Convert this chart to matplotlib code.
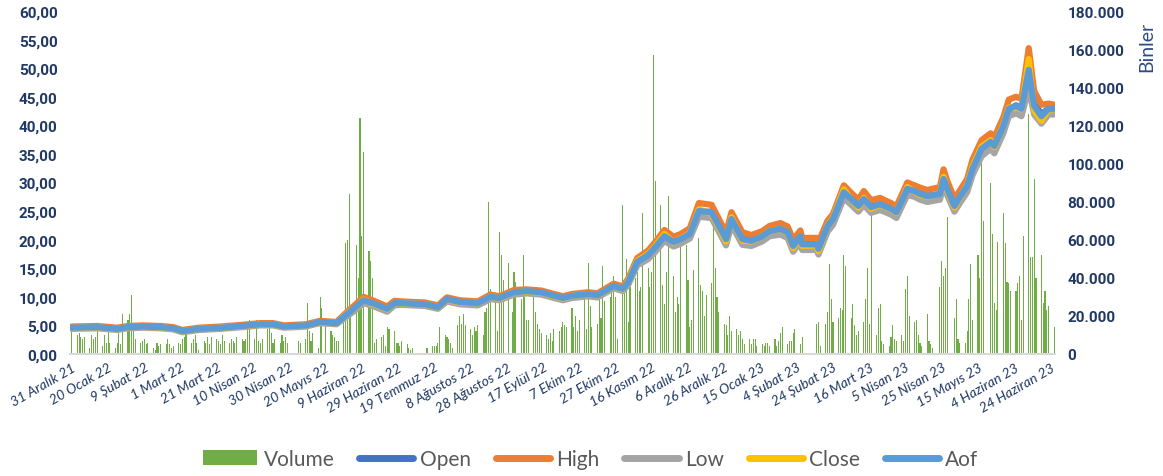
import pandas as pd
import matplotlib
matplotlib.use('Agg')
import matplotlib.pyplot as plt
from matplotlib.patches import Patch
from matplotlib.lines import Line2D

plt.rcParams['font.family'] = ['Lato', 'DejaVu Sans']

# price series (at key dates)
price_dates = [
    '2021-12-31', '2022-01-14', '2022-01-25', '2022-01-31', '2022-02-08', '2022-02-18',
    '2022-02-25', '2022-03-02', '2022-03-11', '2022-03-23', '2022-04-04', '2022-04-14',
    '2022-04-21', '2022-04-27', '2022-05-09', '2022-05-17', '2022-05-26', '2022-06-01',
    '2022-06-06', '2022-06-10', '2022-06-15', '2022-06-23', '2022-06-27', '2022-07-01',
    '2022-07-14', '2022-07-21', '2022-07-26', '2022-08-02', '2022-08-12', '2022-08-19',
    '2022-08-24', '2022-09-01', '2022-09-08', '2022-09-16', '2022-09-23', '2022-09-28',
    '2022-10-03', '2022-10-12', '2022-10-17', '2022-10-26', '2022-10-31', '2022-11-03',
    '2022-11-08', '2022-11-14', '2022-11-18', '2022-11-23', '2022-11-28', '2022-12-02',
    '2022-12-07', '2022-12-12', '2022-12-19', '2022-12-27', '2022-12-30', '2023-01-05',
    '2023-01-10', '2023-01-16', '2023-01-20', '2023-01-26', '2023-01-30', '2023-02-02',
    '2023-02-06', '2023-02-07', '2023-02-15', '2023-02-16', '2023-02-21', '2023-02-24',
    '2023-03-02', '2023-03-06', '2023-03-10', '2023-03-13', '2023-03-17', '2023-03-22',
    '2023-03-28', '2023-03-31', '2023-04-06', '2023-04-10', '2023-04-13', '2023-04-17',
    '2023-04-24', '2023-04-26', '2023-04-28', '2023-05-02', '2023-05-05', '2023-05-09',
    '2023-05-12', '2023-05-17', '2023-05-22', '2023-05-24', '2023-05-29', '2023-06-01',
    '2023-06-05', '2023-06-08', '2023-06-12', '2023-06-15', '2023-06-19', '2023-06-23',
    '2023-06-26',
]
aof = [
    4.6, 4.7, 4.4, 4.7, 4.8, 4.7, 4.5, 4.0, 4.4, 4.6, 4.9, 5.2, 5.2, 4.8, 5.0, 5.6, 5.4, 7.0,
    8.3, 9.4, 8.9, 7.9, 8.9, 8.9, 8.7, 8.2, 9.6, 9.1, 8.9, 10.0, 9.8, 10.8, 11.0, 10.8, 10.2, 9.8,
    10.2, 10.5, 10.3, 11.9, 11.4, 12.6, 16.1, 17.3, 18.7, 20.6, 19.6, 20.1, 21.0, 25.0, 24.8, 20.1,
    23.6, 20.1, 19.8, 20.6, 21.5, 21.9, 21.3, 18.9, 20.6, 19.2, 19.2, 18.4, 22.4, 23.6, 28.3, 27.1,
    25.9, 27.1, 25.7, 26.2, 25.4, 24.8, 28.9, 28.5, 28.0, 27.6, 28.0, 30.6, 28.9, 25.9, 27.5, 29.4,
    32.4, 35.9, 37.1, 36.4, 39.9, 42.9, 43.4, 42.9, 49.7, 43.4, 41.6, 42.9, 42.9,
]
high = [
    4.8, 4.9, 4.6, 4.9, 5.0, 4.9, 4.7, 4.2, 4.6, 4.8, 5.1, 5.4, 5.4, 5.0, 5.2, 5.8, 5.6, 7.4,
    8.8, 10.0, 9.4, 8.3, 9.3, 9.2, 9.0, 8.5, 9.9, 9.4, 9.2, 10.4, 10.1, 11.2, 11.3, 11.1, 10.5, 10.1,
    10.5, 10.8, 10.6, 12.3, 11.8, 13.2, 16.8, 18.1, 19.6, 21.7, 20.5, 21.0, 22.0, 26.4, 26.1, 21.2,
    24.8, 21.3, 20.8, 21.5, 22.4, 22.9, 22.3, 20.0, 21.6, 20.3, 20.3, 19.6, 23.3, 24.5, 29.5, 28.2,
    27.0, 28.5, 26.9, 27.3, 26.4, 25.8, 30.0, 29.5, 29.1, 28.7, 29.2, 32.3, 30.3, 27.2, 28.6, 30.6,
    34.0, 37.4, 38.6, 37.9, 41.4, 44.5, 45.0, 44.6, 53.5, 46.0, 43.6, 43.8, 43.6,
]
low = [
    4.4, 4.5, 4.2, 4.5, 4.6, 4.5, 4.3, 3.8, 4.2, 4.4, 4.7, 5.0, 5.0, 4.6, 4.8, 5.4, 5.2, 6.6,
    7.8, 8.9, 8.4, 7.4, 8.5, 8.6, 8.4, 7.9, 9.2, 8.7, 8.5, 9.6, 9.4, 10.4, 10.6, 10.4, 9.8, 9.4,
    9.8, 10.1, 9.9, 11.5, 11.0, 12.1, 15.5, 16.6, 17.9, 19.8, 18.8, 19.3, 20.2, 24.0, 23.8, 19.0,
    22.6, 19.1, 18.9, 19.7, 20.6, 20.9, 20.3, 17.9, 19.6, 18.2, 18.2, 17.4, 21.4, 22.6, 27.3, 26.1,
    24.9, 26.1, 24.7, 25.2, 24.4, 23.8, 27.8, 27.5, 27.0, 26.6, 27.0, 29.5, 27.8, 24.9, 26.4, 28.3,
    31.3, 34.6, 35.9, 35.1, 38.6, 41.6, 42.1, 41.6, 46.5, 41.9, 40.3, 41.9, 41.9,
]
close = [
    4.55, 4.65, 4.35, 4.7, 4.75, 4.65, 4.45, 3.95, 4.4, 4.6, 4.85, 5.15, 5.2, 4.75, 5.0, 5.55, 5.4, 7.1,
    8.2, 9.5, 8.8, 7.8, 8.9, 8.85, 8.7, 8.15, 9.5, 9.0, 8.9, 10.0, 9.7, 10.8, 10.9, 10.75, 10.1, 9.7,
    10.2, 10.5, 10.25, 11.9, 11.3, 12.8, 16.3, 17.5, 18.9, 21.0, 19.5, 20.2, 21.1, 25.3, 24.6, 19.7,
    23.9, 19.8, 19.7, 20.6, 21.5, 21.9, 21.2, 18.5, 20.5, 18.9, 19.0, 18.0, 22.5, 23.8, 28.8, 27.0,
    25.6, 27.3, 25.4, 26.1, 25.3, 24.7, 29.2, 28.4, 27.8, 27.5, 28.1, 31.0, 28.6, 25.6, 27.4, 29.6,
    32.8, 36.3, 37.4, 36.2, 40.2, 43.1, 43.2, 42.8, 51.6, 42.6, 40.8, 42.8, 42.8,
]
open_ = [
    4.6, 4.7, 4.45, 4.65, 4.8, 4.7, 4.5, 4.05, 4.35, 4.55, 4.9, 5.2, 5.2, 4.85, 4.95, 5.6, 5.4, 6.9,
    8.3, 9.3, 9.0, 8.0, 8.8, 8.9, 8.7, 8.2, 9.6, 9.1, 8.9, 9.9, 9.8, 10.7, 11.0, 10.8, 10.2, 9.8,
    10.1, 10.4, 10.3, 11.8, 11.5, 12.5, 16.0, 17.2, 18.6, 20.4, 19.7, 20.0, 20.9, 24.8, 24.9, 20.3,
    23.4, 20.3, 19.9, 20.5, 21.4, 21.8, 21.4, 19.1, 20.6, 19.4, 19.3, 18.6, 22.3, 23.5, 28.1, 27.2,
    26.0, 27.0, 25.8, 26.2, 25.5, 24.9, 28.7, 28.6, 28.1, 27.7, 28.0, 30.3, 29.1, 26.1, 27.5, 29.3,
    32.2, 35.6, 36.9, 36.6, 39.7, 42.7, 43.5, 43.0, 48.5, 43.9, 41.9, 43.0, 42.9,
]

# daily volume (thousands of the right-axis unit), one list per month of trading days
first_day = '2021-12-31'
volume_k = {
    '2021-12': [12],
    '2022-01': [10, 11, 9, 8, 9, 3, 10, 8, 9, 12, 4, 10, 6, 12, 6, 3, 6, 11, 5, 21, 18],
    '2022-02': [21, 31, 12, 8, 6, 7, 8, 5, 6, 3, 2, 6, 4, 5, 5, 8, 5, 3, 4, 6],
    '2022-03': [5, 8, 9, 12, 6, 8, 10, 6, 2, 7, 6, 9, 5, 9, 8, 7, 5, 10, 7, 6, 8, 7, 6],
    '2022-04': [9, 8, 7, 8, 13, 18, 8, 18, 7, 6, 8, 13, 18, 11, 6, 8, 6, 10, 7, 9, 6],
    '2022-05': [0, 0, 0, 7, 6, 8, 27, 12, 7, 11, 3, 30, 24, 0, 16, 12, 10, 9, 7, 7, 22, 58],
    '2022-06': [60, 84, 20, 57, 40, 124, 62, 106, 54, 49, 40, 6, 8, 9, 10, 4, 14, 13, 12, 6, 6, 4],
    '2022-07': [7, 5, 3, 2, 3, 0, 0, 0, 0, 0, 3, 4, 4, 4, 6, 14, 10, 9, 8, 6, 3],
    '2022-08': [15, 20, 16, 21, 15, 13, 10, 14, 12, 15, 10, 22, 24, 80, 34, 32, 12, 64, 52, 39, 48, 0, 22],
    '2022-09': [43, 38, 29, 52, 30, 18, 18, 30, 22, 16, 13, 11, 10, 8, 11, 7, 13, 12, 14, 17, 15, 14],
    '2022-10': [24, 14, 20, 12, 18, 29, 13, 48, 25, 14, 16, 29, 19, 46, 28, 30, 32, 41, 30, 8, 78],
    '2022-11': [32, 50, 17, 35, 40, 43, 33, 35, 74, 45, 35, 43, 157, 91, 78, 36, 26, 43, 83, 41, 22, 30],
    '2022-12': [26, 57, 57, 39, 14, 18, 44, 61, 36, 33, 20, 31, 37, 67, 45, 30, 22, 16, 15, 10, 20, 12],
    '2023-01': [13, 10, 12, 8, 5, 8, 5, 8, 8, 4, 5, 4, 6, 6, 4, 8, 4, 7, 11, 14, 5, 7],
    '2023-02': [7, 11, 13, 5, 9, 0, 0, 0, 0, 0, 16, 17, 4, 16, 22, 47, 29, 17, 19, 24],
    '2023-03': [23, 52, 46, 19, 26, 15, 10, 12, 17, 29, 45, 16, 74, 10, 24, 26, 7, 5, 4, 9, 15, 8, 7],
    '2023-04': [10, 7, 34, 41, 20, 17, 18, 10, 6, 4, 21, 7, 5, 3, 0, 35, 49, 41, 45, 72],
    '2023-05': [0, 19, 29, 8, 6, 6, 12, 29, 47, 18, 52, 40, 101, 70, 0, 90, 63, 27, 23, 59, 74, 58, 38],
    '2023-06': [37, 33, 33, 37, 41, 18, 62, 126, 51, 51, 92, 40, 52, 27, 33, 23, 25, 14],
}

tick_labels = [
    '31 Aralık 21', '20 Ocak 22', '9 Şubat 22', '1 Mart 22', '21 Mart 22', '10 Nisan 22',
    '30 Nisan 22', '20 Mayıs 22', '9 Haziran 22', '29 Haziran 22', '19 Temmuz 22',
    '8 Ağustos 22', '28 Ağustos 22', '17 Eylül 22', '7 Ekim 22', '27 Ekim 22',
    '16 Kasım 22', '6 Aralık 22', '26 Aralık 22', '15 Ocak 23', '4 Şubat 23',
    '24 Şubat 23', '16 Mart 23', '5 Nisan 23', '25 Nisan 23', '15 Mayıs 23',
    '4 Haziran 23', '24 Haziran 23',
]

navy = '#1F3864'
bold_font = ['Roboto', 'DejaVu Sans']

vol_dates, vol_vals = [], []
for month, vals in volume_k.items():
    start = max(pd.Timestamp(month + '-01'), pd.Timestamp(first_day))
    days = pd.bdate_range(start, pd.Timestamp(month + '-01') + pd.offsets.MonthEnd(0))
    for d, v in zip(days, vals):
        vol_dates.append(d)
        vol_vals.append(v)

pdates = pd.to_datetime(price_dates)

fig = plt.figure(figsize=(11.63, 4.77), dpi=100)
ax = fig.add_axes([70 / 1163, 1 - 355 / 477, 985 / 1163, 343 / 477])
axv = ax.twinx()

axv.bar(vol_dates, vol_vals, width=0.6, color='#70AD47', linewidth=0)
axv.set_ylim(0, 180)
axv.set_yticks(range(0, 181, 20))
axv.set_yticklabels([f'{v * 1000:,}'.replace(',', '.') for v in range(0, 181, 20)],
                    fontsize=11, fontweight='bold', color=navy, family=bold_font)

series = [('Open', open_, '#4472C4'), ('High', high, '#ED7D31'), ('Low', low, '#A5A5A5'),
          ('Close', close, '#FFC000'), ('Aof', aof, '#5B9BD5')]
for name, vals, col in series:
    ax.plot(pdates, vals, color=col, lw=4.5, solid_capstyle='round', solid_joinstyle='round')

ax.set_zorder(axv.get_zorder() + 1)
ax.patch.set_visible(False)

ax.set_ylim(0, 60)
ax.set_yticks(range(0, 61, 5))
ax.set_yticklabels([f'{v},00' for v in range(0, 61, 5)], fontsize=11, fontweight='bold',
                   color=navy, family=bold_font)

ax.set_xlim(pd.Timestamp('2021-12-30'), pd.Timestamp('2023-06-26 12:00'))
tick_dates = pd.date_range('2021-12-31', periods=len(tick_labels), freq='20D')
ax.set_xticks(tick_dates)
ax.set_xticklabels(tick_labels, rotation=30, ha='right', va='top', rotation_mode='anchor',
                   fontstyle='italic', fontsize=10, color=navy)

for a in (ax, axv):
    for s in a.spines.values():
        s.set_visible(False)
    a.tick_params(length=0)
ax.spines['bottom'].set_visible(True)
ax.spines['bottom'].set_color('#D9D9D9')
ax.spines['bottom'].set_linewidth(1.5)
ax.tick_params(axis='y', pad=9)
ax.tick_params(axis='x', pad=5)
axv.tick_params(axis='y', pad=9)

fig.text(1147 / 1163, 1 - 47 / 477, 'Binler', rotation=90, fontsize=14, color='#2F4A80',
         ha='center', va='center')

handles = [Patch(facecolor='#70AD47', label='Volume')]
for name, vals, col in series:
    handles.append(Line2D([0], [0], color=col, lw=5, solid_capstyle='round', label=name))
fig.legend(handles=handles, loc='center', bbox_to_anchor=(0.508, 0.036), ncol=6, frameon=False,
           fontsize=15, handlelength=2.6, handletextpad=0.3, columnspacing=1.2,
           labelcolor='#595959')

fig.savefig('out.png', dpi=100)
